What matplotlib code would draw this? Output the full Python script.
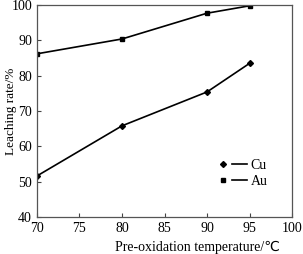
import matplotlib
matplotlib.use("Agg")
import matplotlib.pyplot as plt
from matplotlib.legend_handler import HandlerTuple
from matplotlib.lines import Line2D

# values
temperature = [70, 80, 90, 95]
cu_rate = [51.6, 65.8, 75.4, 83.5]
au_rate = [86.2, 90.4, 97.7, 99.8]

x_ticks = [70, 75, 80, 85, 90, 95, 100]
y_ticks = [40, 50, 60, 70, 80, 90, 100]

plt.rcParams["font.family"] = ["Liberation Serif", "DejaVu Sans"]
plt.rcParams["font.size"] = 10

fig = plt.figure(figsize=(3.03, 2.54), dpi=100)
ax = fig.add_axes([0.122, 0.146, 0.842, 0.834])

ax.plot(temperature, cu_rate, color="black", lw=1.2, marker="D", ms=3)
ax.plot(temperature, au_rate, color="black", lw=1.2, marker="s", ms=3)

ax.set_xlim(70, 100)
ax.set_ylim(40, 100)
ax.set_xticks(x_ticks)
ax.set_yticks(y_ticks)
ax.tick_params(direction="in", length=3, width=0.8, color="#444444", pad=3.5)
for s in ax.spines.values():
    s.set_color("#555555")
    s.set_linewidth(0.9)

ax.set_xlabel("Pre-oxidation temperature/\u2103", fontsize=10)
ax.xaxis.set_label_coords(0.63, -0.115)
ax.set_ylabel("Leaching rate/%", fontsize=9.5)
ax.yaxis.set_label_coords(-0.08, 0.5)

# legend: marker first, then a short line
cu_h = (Line2D([], [], color="black", marker="D", ms=3, ls="none"),
        Line2D([], [], color="black", lw=1.2))
au_h = (Line2D([], [], color="black", marker="s", ms=3, ls="none"),
        Line2D([], [], color="black", lw=1.2))
ax.legend([cu_h, au_h], ["Cu", "Au"], handler_map={tuple: HandlerTuple(ndivide=None, pad=0.1)},
          frameon=False, handlelength=2.2, handletextpad=0.3, labelspacing=0.2,
          loc="upper left", bbox_to_anchor=(0.68, 0.3), numpoints=1,
          borderaxespad=0)

fig.savefig("out.png", dpi=100)
